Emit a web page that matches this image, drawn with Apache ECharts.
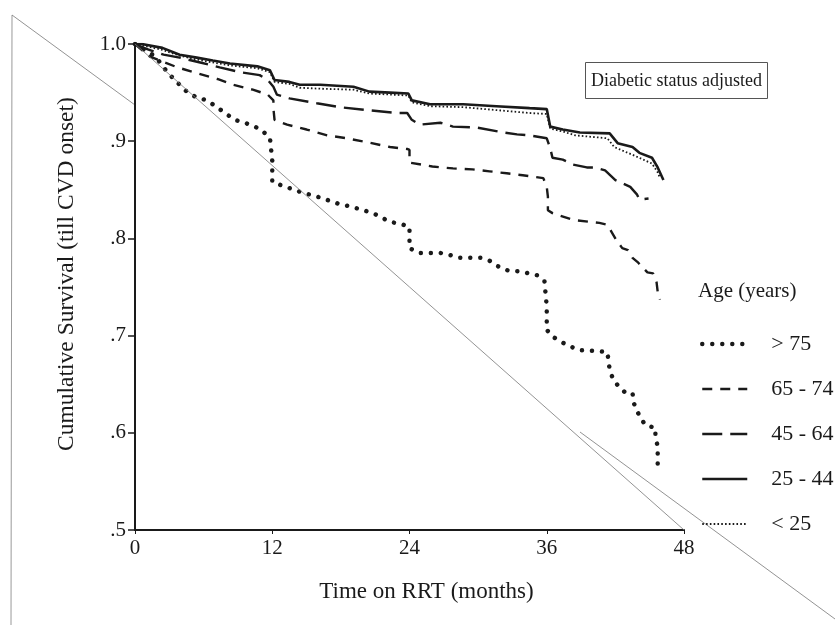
<!DOCTYPE html>
<html>
<head>
<meta charset="utf-8">
<script src="https://cdn.jsdelivr.net/npm/echarts@6/dist/echarts.min.js"></script>
<style>
  html, body { margin: 0; padding: 0; background: #fff; }
  #chart { width: 835px; height: 625px; }
</style>
</head>
<body>
<div id="chart"></div>
<script>
// age groups, in legend order
var groups = ['> 75', '65 - 74', '45 - 64', '25 - 44', '< 25'];

// [months, cumulative survival]
var over75 = [[0, 1], [0.4, 0.997], [1.8, 0.987], [2.9, 0.970], [3.9, 0.958], [4.6, 0.950], [5.4, 0.945],
  [6.3, 0.942], [7.4, 0.933], [8.7, 0.922], [9.6, 0.919], [10.5, 0.915], [11.2, 0.910], [11.8, 0.903],
  [12.0, 0.880], [12.0, 0.858], [12.7, 0.855], [14.4, 0.848], [16.2, 0.842], [17.7, 0.836], [19.1, 0.832],
  [20.8, 0.826], [22.3, 0.817], [23.2, 0.815], [24.0, 0.812], [24.0, 0.790], [24.8, 0.785], [26.7, 0.785],
  [27.5, 0.783], [28.4, 0.780], [30.2, 0.780], [31.0, 0.777], [31.6, 0.772], [32.6, 0.767], [33.7, 0.766],
  [35.2, 0.762], [35.8, 0.756], [36.0, 0.730], [36.0, 0.706], [36.5, 0.699], [37.8, 0.690], [38.9, 0.685],
  [40.4, 0.684], [41.3, 0.683], [41.5, 0.665], [41.8, 0.655], [42.2, 0.649], [42.8, 0.642], [43.5, 0.641],
  [43.6, 0.631], [43.9, 0.622], [44.6, 0.608], [45.5, 0.605], [45.5, 0.596], [45.7, 0.586], [45.7, 0.566]];

var age65to74 = [[0, 1], [1.3, 0.987], [3.7, 0.976], [5.4, 0.970], [7.2, 0.964], [8.6, 0.958], [10.3, 0.953],
  [11.6, 0.948], [12.1, 0.942], [12.1, 0.934], [12.2, 0.922], [13.3, 0.917], [15.0, 0.912], [16.8, 0.906],
  [18.5, 0.903], [20.3, 0.899], [22.3, 0.894], [23.8, 0.892], [24.0, 0.891], [24.0, 0.878], [26.0, 0.874],
  [27.8, 0.872], [29.5, 0.871], [31.0, 0.869], [32.5, 0.867], [33.9, 0.865], [35.7, 0.862], [36.0, 0.853],
  [36.1, 0.843], [36.1, 0.829], [36.5, 0.826], [38.3, 0.819], [40.6, 0.816], [41.3, 0.814], [41.7, 0.806],
  [42.1, 0.798], [42.6, 0.790], [43.1, 0.788], [43.5, 0.780], [44.0, 0.775], [44.8, 0.765], [45.3, 0.764],
  [45.6, 0.755], [45.7, 0.745], [45.9, 0.737]];

var age45to64 = [[0, 1], [1.0, 0.995], [2.5, 0.989], [3.9, 0.986], [5.7, 0.981], [7.4, 0.976], [9.2, 0.971],
  [10.9, 0.968], [11.6, 0.963], [12.1, 0.956], [12.4, 0.948], [13.5, 0.944], [15.9, 0.939], [17.9, 0.935],
  [20.3, 0.932], [22.9, 0.929], [23.8, 0.929], [24.2, 0.922], [24.9, 0.917], [26.7, 0.919], [27.8, 0.915],
  [29.9, 0.914], [32.2, 0.909], [33.4, 0.907], [34.5, 0.906], [36.0, 0.903], [36.3, 0.893], [36.5, 0.883],
  [37.4, 0.881], [38.3, 0.876], [39.5, 0.873], [40.2, 0.873], [41.1, 0.870], [42.0, 0.860], [43.3, 0.853],
  [43.9, 0.845], [44.1, 0.840], [44.9, 0.841]];

var age25to44 = [[0, 1], [0.6, 1.0], [2.4, 0.996], [3.9, 0.989], [5.4, 0.986], [6.8, 0.983], [8.3, 0.980],
  [10.7, 0.977], [11.8, 0.973], [12.2, 0.963], [13.5, 0.961], [14.4, 0.958], [16.2, 0.958], [19.1, 0.956],
  [20.5, 0.951], [22.3, 0.950], [23.9, 0.949], [24.2, 0.942], [25.8, 0.938], [28.7, 0.938], [31.6, 0.936],
  [34.5, 0.934], [36.0, 0.933], [36.3, 0.915], [37.4, 0.912], [38.9, 0.909], [41.5, 0.908], [42.2, 0.898],
  [43.5, 0.894], [44.1, 0.888], [45.2, 0.883], [45.7, 0.873], [46.2, 0.860]];

var under25 = [[0, 1], [2.4, 0.994], [3.9, 0.988], [5.4, 0.984], [6.8, 0.981], [8.3, 0.978], [10.7, 0.975],
  [11.8, 0.971], [12.2, 0.961], [13.5, 0.959], [14.4, 0.955], [16.2, 0.954], [19.1, 0.953], [20.5, 0.949],
  [22.3, 0.948], [23.9, 0.947], [24.2, 0.940], [25.8, 0.936], [28.7, 0.935], [31.6, 0.932], [34.5, 0.929],
  [36.0, 0.928], [36.3, 0.913], [37.4, 0.910], [38.5, 0.906], [41.3, 0.903], [41.9, 0.894], [43.7, 0.885],
  [45.2, 0.877], [45.7, 0.868], [45.9, 0.862]];

var xTicks = [0, 12, 24, 36, 48];
var yTicks = [0.5, 0.6, 0.7, 0.8, 0.9, 1.0];

var font = 'Liberation Serif';
var ink = '#1a1a1a';

// one stroke style per age group, shared by curve and legend sample
var strokes = [
    { color: ink, width: 4.5, type: [0.01, 10], cap: 'round' },
    { color: ink, width: 2.4, type: [10, 8], cap: 'butt' },
    { color: ink, width: 2.4, type: [20, 8], cap: 'butt' },
    { color: ink, width: 2.6, type: 'solid', cap: 'butt' },
    { color: ink, width: 1.8, type: [1.6, 2.2], cap: 'butt' }
];
var curves = [over75, age65to74, age45to64, age25to44, under25];

var myChart = echarts.init(document.getElementById('chart'));

var series = curves.map(function (data, i) {
    return {
        name: groups[i],
        type: 'line',
        data: data,
        symbol: 'none',
        itemStyle: { color: ink },
        lineStyle: strokes[i]
    };
});
// thin reference diagonal across the plot
series[0].markLine = {
    silent: true,
    symbol: 'none',
    label: { show: false },
    lineStyle: { color: '#777', width: 0.8, type: 'solid', cap: 'butt' },
    data: [[{ coord: [xTicks[0], yTicks[yTicks.length - 1]] }, { coord: [xTicks[xTicks.length - 1], yTicks[0]] }]]
};

var option = {
    backgroundColor: '#fff',
    animation: false,
    title: [{
        text: 'Diabetic status adjusted',
        left: 585,
        top: 62,
        padding: [10, 6, 9, 6],
        borderColor: '#555',
        borderWidth: 1,
        textStyle: { fontFamily: font, fontSize: 18, fontWeight: 'normal', color: ink }
    }, {
        text: 'Age (years)',
        left: 698,
        top: 281,
        padding: 0,
        textStyle: { fontFamily: font, fontSize: 21, fontWeight: 'normal', color: ink }
    }],
    legend: {
        data: groups.map(function (g, i) {
            return { name: g, lineStyle: strokes[i], itemStyle: { opacity: 0 } };
        }),
        orient: 'vertical',
        left: 700,
        top: 333,
        itemWidth: 45,
        itemHeight: 14,
        itemGap: 23,
        padding: 0,
        itemStyle: { opacity: 0 },
        textStyle: { fontFamily: font, fontSize: 22, color: ink, padding: [0, 0, 0, 19] }
    },
    grid: { left: 135, right: 151, top: 44, bottom: 95 },
    xAxis: {
        type: 'value',
        min: xTicks[0],
        max: xTicks[xTicks.length - 1],
        interval: 12,
        name: 'Time on RRT (months)',
        nameLocation: 'middle',
        nameGap: 50,
        nameTextStyle: { fontFamily: font, fontSize: 23, color: ink, padding: [0, 0, 0, 34] },
        axisLine: { lineStyle: { color: ink, width: 2 } },
        axisTick: { length: 4, lineStyle: { color: ink } },
        axisLabel: { fontFamily: font, fontSize: 21, color: ink, margin: 8 },
        splitLine: { show: false }
    },
    yAxis: {
        type: 'value',
        min: yTicks[0],
        max: yTicks[yTicks.length - 1],
        interval: 0.1,
        name: 'Cumulative Survival (till CVD onset)',
        nameLocation: 'middle',
        nameGap: 56,
        nameTextStyle: { fontFamily: font, fontSize: 23.5, color: ink, padding: [0, 0, 0, 26] },
        axisLine: { show: true, lineStyle: { color: ink, width: 2 } },
        axisTick: { show: true, length: 7, lineStyle: { color: ink, width: 1.5 } },
        axisLabel: {
            fontFamily: font, fontSize: 21, color: ink, margin: 9,
            formatter: function (v) { return v.toFixed(1).replace(/^0/, ''); }
        },
        splitLine: { show: false }
    },
    graphic: [
        // scan edge and the long diagonal that shows outside the plot
        { type: 'line', silent: true, shape: { x1: 12, y1: 15, x2: 11, y2: 625 }, style: { stroke: '#999', lineWidth: 1 } },
        { type: 'line', silent: true, shape: { x1: 12, y1: 15, x2: 135, y2: 105 }, style: { stroke: '#777', lineWidth: 0.8 } },
        { type: 'line', silent: true, shape: { x1: 580, y1: 432, x2: 835, y2: 619 }, style: { stroke: '#777', lineWidth: 0.8 } }
    ],
    series: series
};

myChart.setOption(option);
</script>
</body>
</html>
